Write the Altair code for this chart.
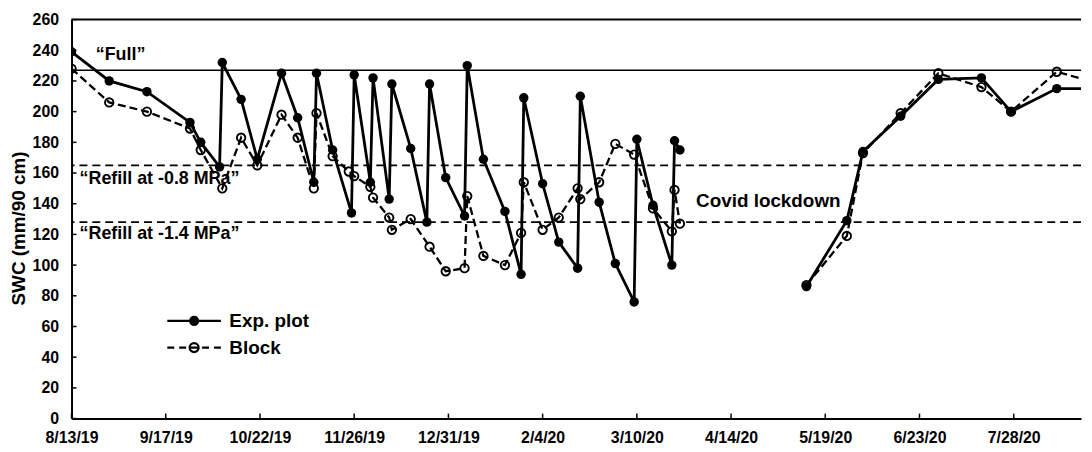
import altair as alt
import pandas as pd

# ---------------- data ----------------
exp_dates = ["2019-08-13", "2019-08-27", "2019-09-10", "2019-09-26", "2019-09-30",
             "2019-10-07", "2019-10-08", "2019-10-15", "2019-10-21", "2019-10-30",
             "2019-11-05", "2019-11-11", "2019-11-12", "2019-11-18", "2019-11-25",
             "2019-11-26", "2019-12-02", "2019-12-03", "2019-12-09", "2019-12-10",
             "2019-12-17", "2019-12-23", "2019-12-24", "2019-12-30", "2020-01-06",
             "2020-01-07", "2020-01-13", "2020-01-21", "2020-01-27", "2020-01-28",
             "2020-02-04", "2020-02-10", "2020-02-17", "2020-02-18", "2020-02-25",
             "2020-03-02", "2020-03-09", "2020-03-10", "2020-03-16", "2020-03-23",
             "2020-03-24", "2020-03-26",
             "2020-05-12", "2020-05-27", "2020-06-02", "2020-06-16", "2020-06-30",
             "2020-07-16", "2020-07-27", "2020-08-13", "2020-08-27"]
exp_vals = [239, 220, 213, 193, 180,
            164, 232, 208, 169, 225,
            196, 154, 225, 175, 134,
            224, 154, 222, 143, 218,
            176, 128, 218, 157, 132,
            230, 169, 135, 94, 209,
            153, 115, 98, 210, 141,
            101, 76, 182, 139, 100,
            181, 175,
            86, 129, 174, 197, 221,
            222, 200, 215, 215]

blk_dates = ["2019-08-13", "2019-08-27", "2019-09-10", "2019-09-26", "2019-09-30",
             "2019-10-08", "2019-10-15", "2019-10-21", "2019-10-30", "2019-11-05",
             "2019-11-11", "2019-11-12", "2019-11-18", "2019-11-24", "2019-11-26",
             "2019-12-02", "2019-12-03", "2019-12-09", "2019-12-10", "2019-12-17",
             "2019-12-24", "2019-12-30", "2020-01-06", "2020-01-07", "2020-01-13",
             "2020-01-21", "2020-01-27", "2020-01-28", "2020-02-04", "2020-02-10",
             "2020-02-17", "2020-02-18", "2020-02-25", "2020-03-02", "2020-03-09",
             "2020-03-16", "2020-03-23", "2020-03-24", "2020-03-26",
             "2020-05-12", "2020-05-27", "2020-06-02", "2020-06-16", "2020-06-30",
             "2020-07-16", "2020-07-27", "2020-08-13", "2020-08-27"]
blk_vals = [228, 206, 200, 189, 175,
            150, 183, 165, 198, 183,
            150, 199, 171, 161, 158,
            151, 144, 131, 123, 130,
            112, 96, 98, 145, 106,
            100, 121, 154, 123, 131,
            150, 143, 154, 179, 172,
            137, 122, 149, 127,
            87, 119, 173, 199, 225,
            216, 200, 226, 219]

gap_after = "2020-03-26"          # Covid lockdown: no readings until May
full_level = [227]
refill_levels = [165, 128]
frame_top = [260]

tick_dates = ["2019-08-13", "2019-09-17", "2019-10-22", "2019-11-26", "2019-12-31",
              "2020-02-04", "2020-03-10", "2020-04-14", "2020-05-19", "2020-06-23",
              "2020-07-28"]
y_ticks = [0, 20, 40, 60, 80, 100, 120, 140, 160, 180, 200, 220, 240, 260]

ann_dates = ["2019-08-22", "2019-08-16", "2019-08-16"]
ann_vals = [237, 156, 120]
ann_text = ["\u201cFull\u201d", "\u201cRefill at -0.8 MPa\u201d", "\u201cRefill at -1.4 MPa\u201d"]
covid_date = ["2020-04-01"]
covid_val = [142]
covid_text = ["Covid lockdown"]

x_start = "2019-08-13"
x_end = "2020-08-22"

# ---------------- tables ----------------
exp_df = pd.DataFrame({"date": exp_dates, "swc": exp_vals, "series": "Exp. plot"})
blk_df = pd.DataFrame({"date": blk_dates, "swc": blk_vals, "series": "Block"})
for d in (exp_df, blk_df):
    d["seg"] = (d["date"] > gap_after).astype(int)
both_df = pd.concat([exp_df, blk_df], ignore_index=True)


def dt(s):
    y, m, d = (int(p) for p in s.split("-"))
    return alt.DateTime(year=y, month=m, date=d, utc=True)


FONT = "Liberation Sans"

xscale = alt.Scale(type="utc", domain=[dt(x_start), dt(x_end)])
yscale = alt.Scale(domain=[0, 260], nice=False)

X = alt.X("date:T", scale=xscale,
          axis=alt.Axis(values=[dt(s) for s in tick_dates], format="%-m/%-d/%y",
                        title=None, grid=False, ticks=False, labelPadding=11,
                        labelFontSize=16, labelFontWeight="bold", labelFont=FONT,
                        labelColor="black", domainColor="black", domainWidth=2,
                        labelOverlap=False, labelFlush=False))
Y = alt.Y("swc:Q", scale=yscale,
          axis=alt.Axis(values=y_ticks, title="SWC (mm/90 cm)", grid=False, ticks=False,
                        labelPadding=13, labelFontSize=16, labelFontWeight="bold",
                        labelFont=FONT, labelColor="black", domainColor="black",
                        domainWidth=2, titleFont=FONT, titleFontSize=19,
                        titleFontWeight="bold", titleColor="black", titleAngle=270,
                        titleAlign="center", titleBaseline="middle", titleX=-53,
                        titleY=210))

# reference lines
top_rule = alt.Chart(pd.DataFrame({"swc": frame_top})).mark_rule(
    color="black", strokeWidth=2).encode(y=Y)
full_rule = alt.Chart(pd.DataFrame({"swc": full_level})).mark_rule(
    color="black", strokeWidth=1.6).encode(y=Y)
refill_rule = alt.Chart(pd.DataFrame({"swc": refill_levels})).mark_rule(
    color="black", strokeWidth=1.6, strokeDash=[8, 5]).encode(y=Y)

# series
blk_line = alt.Chart(blk_df).mark_line(
    color="black", strokeWidth=2.3, strokeDash=[8, 4], clip=True).encode(
    x=X, y=Y, detail="seg:N")
exp_line = alt.Chart(exp_df).mark_line(
    color="black", strokeWidth=2.8, clip=True).encode(x=X, y=Y, detail="seg:N")
blk_pts = alt.Chart(blk_df).mark_point(
    shape="circle", filled=False, color="black", strokeWidth=1.9, size=72,
    opacity=1, clip=True).encode(x=X, y=Y)
exp_pts = alt.Chart(exp_df).mark_point(
    shape="circle", filled=True, color="black", size=90, opacity=1,
    clip=True).encode(x=X, y=Y)

# legend (custom symbols: line + marker)
path_exp = ("M-5.4,0L5.4,0"
            "M0.8,0A0.8,0.8 0 1,1 -0.8,0A0.8,0.8 0 1,1 0.8,0"
            "M0.5,0A0.5,0.5 0 1,1 -0.5,0A0.5,0.5 0 1,1 0.5,0"
            "M0.2,0A0.2,0.2 0 1,1 -0.2,0A0.2,0.2 0 1,1 0.2,0")
path_blk = ("M-5.4,0L-4,0M-3,0L-1.6,0M-0.9,0L0.9,0M1.6,0L3,0M4,0L5.4,0"
            "M0.9,0A0.9,0.9 0 1,1 -0.9,0A0.9,0.9 0 1,1 0.9,0")
legend_layer = alt.Chart(both_df).mark_point(
    opacity=0, size=100, clip=True, filled=False).encode(
    x=X, y=Y,
    shape=alt.Shape("series:N",
                    scale=alt.Scale(domain=["Exp. plot", "Block"], range=[path_exp, path_blk]),
                    legend=alt.Legend(title=None, orient="none", legendX=114, legendY=294,
                                      padding=0, rowPadding=7, labelOffset=26,
                                      labelFont=FONT, labelFontSize=19,
                                      labelFontWeight="bold", labelColor="black",
                                      symbolSize=100, symbolStrokeWidth=2.3,
                                      symbolStrokeColor="black",
                                      symbolFillColor="transparent",
                                      symbolOpacity=1)))

# annotations
ann = alt.Chart(pd.DataFrame({"date": ann_dates, "swc": ann_vals, "txt": ann_text})).mark_text(
    align="left", baseline="middle", font=FONT, fontSize=18, fontWeight="bold",
    color="black").encode(x=X, y=Y, text="txt:N")
covid = alt.Chart(pd.DataFrame({"date": covid_date, "swc": covid_val, "txt": covid_text})).mark_text(
    align="left", baseline="middle", font=FONT, fontSize=19, fontWeight="bold",
    color="black").encode(x=X, y=Y, text="txt:N")

# inward tick marks
yticks_layer = alt.Chart(pd.DataFrame({"swc": y_ticks})).mark_rule(
    color="black", strokeWidth=1.5).encode(y=Y, x=alt.value(0), x2=alt.value(5))
xticks_layer = alt.Chart(pd.DataFrame({"date": tick_dates})).mark_rule(
    color="black", strokeWidth=1.5).encode(x=X, y=alt.value(402), y2=alt.value(397))

chart = alt.layer(
    top_rule, full_rule, refill_rule,
    blk_line, exp_line, blk_pts, exp_pts,
    legend_layer, ann, covid, yticks_layer, xticks_layer
).properties(
    width=1017, height=402,
    autosize=alt.AutoSizeParams(type="none"),
    padding={"left": 64, "top": 10, "right": 3, "bottom": 28},
    background="white",
).configure_view(stroke=None)

chart.save("out.html", embed_options={"renderer": "svg", "actions": False})
